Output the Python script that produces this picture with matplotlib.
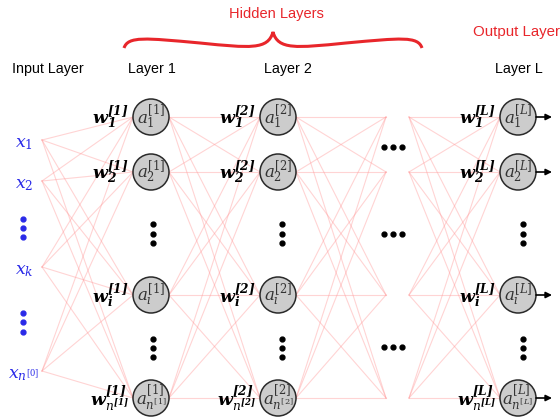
import matplotlib.pyplot as plt
from matplotlib.patches import Circle, PathPatch
from matplotlib.path import Path

# labels
layer_titles = ['Input Layer', 'Layer 1', 'Layer 2', 'Layer L']
group_titles = ['Hidden Layers', 'Output Layer']
layer_tags = ['1', '2', 'L']
row_subs = ['1', '2', 'i', 'n']
input_subs = ['1', '2', 'k', 'n^{[0]}']

# layout (pixel coords, y downwards)
W, H = 560, 419
node_y = [117, 172, 295, 398]
input_y = [140, 181, 267, 371]
input_x = 42
layer_x = [151, 278, 518]
R = 18
gap_left, gap_right = 386, 409

line_kw = dict(color=(1.0, 0.6, 0.6), alpha=0.42, lw=0.8, zorder=1)
red = '#e8262b'
blue = '#2a2ae8'

fig = plt.figure(figsize=(W / 100, H / 100), dpi=100)
ax = fig.add_axes([0, 0, 1, 1])
ax.set_xlim(0, W)
ax.set_ylim(H, 0)
ax.axis('off')

# connections
for y0 in input_y:
    for y1 in node_y:
        ax.plot([input_x, layer_x[0] - R], [y0, y1], **line_kw)
for y0 in node_y:
    for y1 in node_y:
        ax.plot([layer_x[0] + R, layer_x[1] - R], [y0, y1], **line_kw)
        ax.plot([layer_x[1] + R, gap_left], [y0, y1], **line_kw)
        ax.plot([gap_right, layer_x[2] - R], [y0, y1], **line_kw)

# nodes
for lx, tag in zip(layer_x, layer_tags):
    for y, s in zip(node_y, row_subs):
        ax.add_patch(Circle((lx, y), R, facecolor='#cccccc', edgecolor='#2a2a2a',
                            lw=1.1, zorder=3))
        if s == 'n':
            sub = r'\mathit{n}^{\mathit{[%s]}}' % tag
            wsub = r'\mathit{n}^{\mathbfit{[%s]}}' % tag
        else:
            sub = r'\mathit{%s}' % s
            wsub = r'\mathbfit{%s}' % s
        ax.text(lx, y, r'$\mathit{a}_{%s}^{\mathit{[%s]}}$' % (sub, tag),
                ha='center', va='center', fontsize=12, color='#333333',
                math_fontfamily='dejavuserif', zorder=4)
        ax.text(lx - R - 4, y + 1, r'$\mathbfit{w}_{%s}^{\mathbfit{[%s]}}$' % (wsub, tag),
                ha='right', va='center', fontsize=12.5, color='black',
                math_fontfamily='dejavuserif', zorder=4)
        if tag == 'L':
            ax.annotate('', xy=(lx + R + 16, y), xytext=(lx + R, y),
                        arrowprops=dict(arrowstyle='-|>', color='black', lw=1.2,
                                        mutation_scale=9, shrinkA=0, shrinkB=0))

# input labels
for y, s in zip(input_y, input_subs):
    ax.text(24, y + 3, r'$\mathit{x}_{\mathit{%s}}$' % s, ha='center', va='center',
            fontsize=12.5, color=blue, math_fontfamily='dejavuserif')

# vertical dots
for dys in ([219, 228, 237], [313, 322, 332]):
    ax.plot([23] * 3, dys, 'o', color=blue, ms=3.5)
for lx, off in zip(layer_x, [2, 4, 5]):
    for dys in ([224, 234, 243], [339, 348, 357]):
        ax.plot([lx + off] * 3, dys, 'o', color='black', ms=3.5)
# horizontal dots
for hy in [147, 234, 347]:
    ax.plot([384, 393, 402], [hy] * 3, 'o', color='black', ms=3.5)

# titles
for t, x in zip(layer_titles, [48, 152, 288, 519]):
    ax.text(x, 69, t, ha='center', va='center', fontsize=10.3, family='Liberation Sans')
ax.text(276, 14, group_titles[0], ha='center', va='center', fontsize=10.5,
        color=red, family='Liberation Sans')
ax.text(473, 32, group_titles[1], ha='left', va='center', fontsize=10.8,
        color=red, family='Liberation Sans')

# curly brace
verts = [(124, 48), (128, 36), (145, 38), (200, 43),
         (250, 48), (268, 50), (273, 32),
         (278, 50), (296, 48), (346, 43),
         (401, 38), (418, 36), (422, 48)]
codes = [Path.MOVETO] + [Path.CURVE4] * 12
ax.add_patch(PathPatch(Path(verts, codes), facecolor='none', edgecolor=red, lw=2.2))

fig.savefig('out.png', dpi=100)
